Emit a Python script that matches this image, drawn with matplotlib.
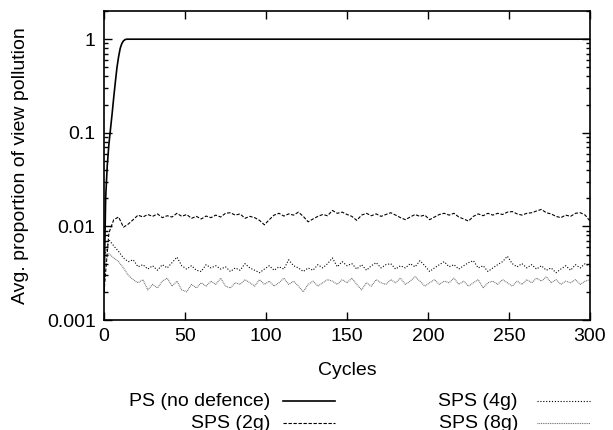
import numpy as np
import matplotlib.pyplot as plt
from matplotlib.lines import Line2D

plt.rcParams['font.family'] = ['Liberation Sans', 'DejaVu Sans']

# PS (no defence): rises to 1 within the first cycles
ps_cycles = [0, 1, 2, 3, 4, 5, 6, 7, 8, 9, 10, 11, 12, 13, 14, 300]
ps_vals = [0.002, 0.02, 0.045, 0.075, 0.11, 0.16, 0.24, 0.35, 0.5, 0.65,
           0.8, 0.9, 0.96, 0.99, 1.0, 1.0]

# common cycle grid for the SPS runs (every 3 cycles)
cycles = list(range(0, 301, 3))

# values in units of 1e-3
sps2 = [2.0, 8.5, 11.8, 12.6, 9.8, 10.6, 11.8, 13.2, 12.6, 13.4,
        12.8, 13.6, 12.4, 13.0, 12.6, 13.8, 12.8, 13.4, 12.2, 12.8,
        12.0, 12.9, 12.4, 13.2, 12.6, 13.8, 14.0, 13.2, 13.6, 12.2,
        12.8, 12.4, 11.6, 10.4, 11.8, 13.2, 13.8, 12.9, 13.6, 13.2,
        14.2, 12.8, 11.2, 12.0, 12.8, 13.4, 13.0, 14.8, 13.8, 14.2,
        13.4, 12.8, 11.6, 13.2, 13.8, 13.0, 13.6, 12.8, 13.4, 14.0,
        13.2, 12.4, 11.8, 12.6, 13.4, 12.8, 13.2, 11.8, 12.6, 13.4,
        13.8, 13.2, 13.8, 12.6, 12.0, 11.4, 12.8, 13.6, 13.0, 13.8,
        13.2, 13.8, 13.4, 14.2, 14.4, 13.6, 13.2, 13.8, 14.0, 14.6,
        15.2, 14.0, 13.6, 12.8, 12.4, 13.2, 12.8, 13.8, 14.0, 13.2, 11.4]
sps4 = [4.5, 7.2, 6.2, 5.4, 4.6, 4.2, 4.4, 3.7, 3.9, 3.5,
        3.8, 3.4, 3.9, 3.6, 4.1, 4.7, 3.8, 3.5, 3.8, 3.4,
        3.3, 3.9, 3.6, 3.8, 3.5, 3.7, 3.3, 3.6, 3.4, 4.0,
        3.6, 3.4, 3.2, 3.5, 3.8, 3.4, 3.7, 3.5, 4.4, 3.8,
        3.6, 3.3, 3.6, 3.4, 3.9, 3.6, 4.0, 4.6, 3.7, 4.2,
        3.8, 4.0, 3.5, 3.9, 3.4, 3.8, 4.1, 3.6, 3.9, 4.0,
        3.5, 3.8, 3.6, 4.0, 3.7, 4.3, 3.8, 3.3, 3.6, 3.9,
        4.2, 3.7, 3.9, 3.5, 3.8, 4.1, 4.3, 3.6, 3.8, 3.3,
        3.6, 3.9, 4.2, 4.8, 4.0, 3.7, 4.0, 3.6, 3.9, 3.5,
        3.8, 3.4, 3.6, 3.2, 3.5, 3.8, 3.4, 3.9, 3.6, 4.0, 3.7]
sps8 = [4.0, 5.1, 4.6, 4.2, 3.6, 3.0, 2.7, 2.5, 2.7, 2.1,
        2.4, 2.2, 2.6, 2.8, 2.3, 2.6, 2.1, 2.0, 2.4, 2.2,
        2.5, 2.3, 2.6, 2.4, 2.8, 2.3, 2.2, 2.5, 2.4, 2.7,
        2.5, 2.3, 2.7, 2.4, 2.6, 2.3, 2.5, 2.8, 2.4, 2.6,
        2.3, 2.0, 2.4, 2.6, 2.3, 2.5, 2.7, 2.6, 2.4, 2.7,
        2.5, 2.8, 2.4, 2.1, 2.5, 2.3, 2.7, 2.5, 2.4, 2.7,
        2.5, 2.8, 2.4, 2.6, 2.9, 2.6, 2.3, 2.5, 2.7, 2.4,
        2.6, 2.5, 2.8, 2.4, 2.6, 2.3, 2.5, 2.7, 2.2, 2.5,
        2.6, 2.4, 2.7, 2.5, 2.3, 2.6, 2.4, 2.7, 2.5, 2.8,
        2.6, 2.9, 2.5, 2.7, 2.4, 2.6, 2.5, 2.7, 2.4, 2.6, 2.7]

styles = {
    'PS (no defence)': dict(color='black', lw=1.2, ls='-'),
    'SPS (2g)': dict(color='black', lw=0.8, ls=(0, (3, 1.5))),
    'SPS (4g)': dict(color='black', lw=0.8, ls=(0, (1, 1.6))),
    'SPS (8g)': dict(color='#666666', lw=0.8, ls=(0, (0.8, 0.8))),
}

fig = plt.figure(figsize=(6.13, 4.30), dpi=100)
ax = fig.add_axes([0.1697, 0.2558, 0.7928, 0.7186])

ax.plot(ps_cycles, ps_vals, **styles['PS (no defence)'])
ax.plot(cycles, np.array(sps2) * 1e-3, **styles['SPS (2g)'])
ax.plot(cycles, np.array(sps4) * 1e-3, **styles['SPS (4g)'])
ax.plot(cycles, np.array(sps8) * 1e-3, **styles['SPS (8g)'])

ax.set_yscale('log')
ax.set_xlim(0, 300)
ax.set_ylim(0.001, 2)
ax.set_xticks([0, 50, 100, 150, 200, 250, 300])
ax.set_yticks([0.001, 0.01, 0.1, 1])
ax.set_yticklabels(['0.001', '0.01', '0.1', '1'])
ax.tick_params(which='both', direction='in', top=True, right=True,
               labelsize=14, width=1)
ax.tick_params(which='major', length=6, pad=6)
ax.tick_params(which='minor', length=3)
for s in ax.spines.values():
    s.set_linewidth(1.2)

ax.set_xlabel('Cycles', fontsize=14, labelpad=12)
ax.set_ylabel('Avg. proportion of view pollution', fontsize=14, labelpad=13)

# gnuplot-style key below the plot: right-aligned text then sample
W, H = 613, 430
entries = [('PS (no defence)', 270, 401, 283, 335),
           ('SPS (2g)', 270, 423, 283, 335),
           ('SPS (4g)', 518, 401, 537, 590),
           ('SPS (8g)', 518, 423, 537, 590)]
for name, tx, ty, x0, x1 in entries:
    fig.text(tx / W, 1 - ty / H, name, ha='right', va='center', fontsize=14)
    fig.add_artist(Line2D([x0 / W, x1 / W], [1 - ty / H, 1 - ty / H],
                          transform=fig.transFigure, **styles[name]))

fig.savefig('out.png', dpi=100)
